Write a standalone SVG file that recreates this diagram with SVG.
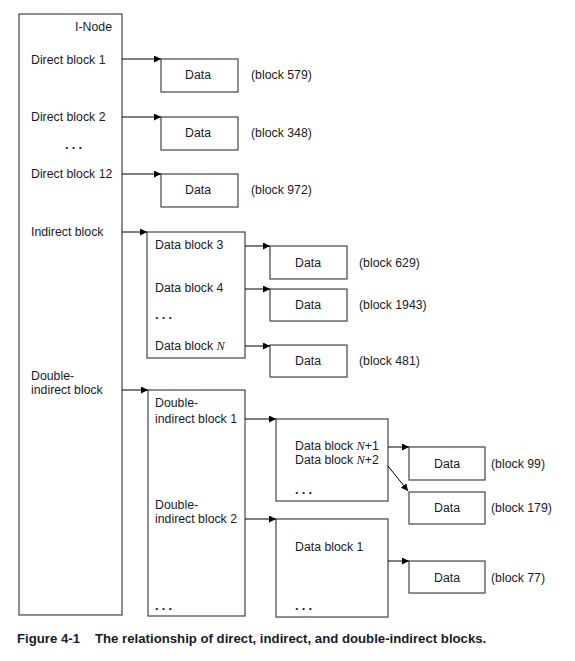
<svg xmlns="http://www.w3.org/2000/svg" width="575" height="661" viewBox="0 0 575 661">
<defs>
<marker id="ah" viewBox="0 0 10 10" refX="10" refY="5" markerWidth="7" markerHeight="7" markerUnits="userSpaceOnUse" orient="auto">
<path d="M0,0 L10,5 L0,10 z" fill="#000"/>
</marker>
<style>
.box{fill:#fff;stroke:#444;stroke-width:1.2}
.t{font-family:"Liberation Sans",Arial,sans-serif;font-size:12.3px;fill:#1a1a2a}
.c{text-anchor:middle}
.n{font-family:"Liberation Serif",serif;font-style:italic}
.d{font-family:"Liberation Sans",Arial,sans-serif;font-size:13px;font-weight:bold;letter-spacing:3.2px;fill:#1a1a2a}
.ln{fill:none;stroke:#000;stroke-width:1;marker-end:url(#ah)}
.cap{font-family:"Liberation Sans",sans-serif;font-size:13.2px;font-weight:bold;fill:#1a1a2a}
</style>
</defs>
<rect width="575" height="661" fill="#fff"/>
<g id="inode">
<rect class="box" x="19" y="14" width="103" height="601"/>
<text class="t" x="112" y="31" text-anchor="end">I-Node</text>
<text class="t" x="31" y="64">Direct block 1</text>
<text class="t" x="31" y="121">Direct block 2</text>
<text class="d" x="65" y="149">...</text>
<text class="t" x="31" y="178">Direct block 12</text>
<text class="t" x="31" y="236">Indirect block</text>
<text class="t" x="31" y="380">Double-</text>
<text class="t" x="31" y="394">indirect block</text>
</g>
<g id="data579">
<rect class="box" x="161" y="59" width="77" height="33"/>
<text class="t c" x="198" y="79">Data</text>
<text class="t" x="251" y="79">(block 579)</text>
</g>
<g id="data348">
<rect class="box" x="161" y="117" width="77" height="33"/>
<text class="t c" x="198" y="137">Data</text>
<text class="t" x="251" y="137">(block 348)</text>
</g>
<g id="data972">
<rect class="box" x="161" y="174" width="77" height="33"/>
<text class="t c" x="198" y="194">Data</text>
<text class="t" x="251" y="194">(block 972)</text>
</g>
<g id="indirect">
<rect class="box" x="147" y="232" width="98" height="126"/>
<text class="t" x="155" y="249">Data block 3</text>
<text class="t" x="155" y="292">Data block 4</text>
<text class="d" x="155" y="319">...</text>
<text class="t" x="155" y="350">Data block <tspan class="n">N</tspan></text>
</g>
<g id="data629">
<rect class="box" x="270" y="246" width="77" height="33"/>
<text class="t c" x="308" y="267">Data</text>
<text class="t" x="359" y="267">(block 629)</text>
</g>
<g id="data1943">
<rect class="box" x="270" y="289" width="77" height="32"/>
<text class="t c" x="308" y="309">Data</text>
<text class="t" x="359" y="309">(block 1943)</text>
</g>
<g id="data481">
<rect class="box" x="270" y="345" width="77" height="32"/>
<text class="t c" x="308" y="365">Data</text>
<text class="t" x="359" y="365">(block 481)</text>
</g>
<g id="double">
<rect class="box" x="148" y="390" width="97" height="226"/>
<text class="t" x="155" y="407">Double-</text>
<text class="t" x="155" y="423">indirect block 1</text>
<text class="t" x="155" y="509">Double-</text>
<text class="t" x="155" y="523">indirect block 2</text>
<text class="d" x="155" y="610">...</text>
</g>
<g id="dbl1">
<rect class="box" x="276" y="419" width="112" height="82"/>
<text class="t" x="295" y="450">Data block <tspan class="n">N</tspan>+1</text>
<text class="t" x="295" y="464">Data block <tspan class="n">N</tspan>+2</text>
<text class="d" x="295" y="494">...</text>
</g>
<g id="dbl2">
<rect class="box" x="276" y="519" width="112" height="98"/>
<text class="t" x="295" y="551">Data block 1</text>
<text class="d" x="295" y="610">...</text>
</g>
<g id="data99">
<rect class="box" x="409" y="447" width="76" height="33"/>
<text class="t c" x="447" y="468">Data</text>
<text class="t" x="491" y="468">(block 99)</text>
</g>
<g id="data179">
<rect class="box" x="409" y="492" width="76" height="32"/>
<text class="t c" x="447" y="512">Data</text>
<text class="t" x="491" y="512">(block 179)</text>
</g>
<g id="data77">
<rect class="box" x="409" y="561" width="76" height="32"/>
<text class="t c" x="447" y="582">Data</text>
<text class="t" x="491" y="582">(block 77)</text>
</g>
<g id="connectors">
<line class="ln" x1="122" y1="59" x2="161" y2="59"/>
<line class="ln" x1="122" y1="117" x2="161" y2="117"/>
<line class="ln" x1="122" y1="174" x2="161" y2="174"/>
<line class="ln" x1="122" y1="232" x2="147" y2="232"/>
<line class="ln" x1="245" y1="246" x2="270" y2="246"/>
<line class="ln" x1="245" y1="289" x2="270" y2="289"/>
<line class="ln" x1="245" y1="346" x2="270" y2="346"/>
<line class="ln" x1="122" y1="390" x2="148" y2="390"/>
<line class="ln" x1="245" y1="419" x2="276" y2="419"/>
<line class="ln" x1="245" y1="519" x2="276" y2="519"/>
<line class="ln" x1="388" y1="447" x2="409" y2="447"/>
<line class="ln" x1="388" y1="466" x2="408" y2="491"/>
<line class="ln" x1="388" y1="561" x2="409" y2="561"/>
</g>
<text class="cap" x="17" y="643">Figure 4-1<tspan x="95">The relationship of direct, indirect, and double-indirect blocks.</tspan></text>
</svg>
